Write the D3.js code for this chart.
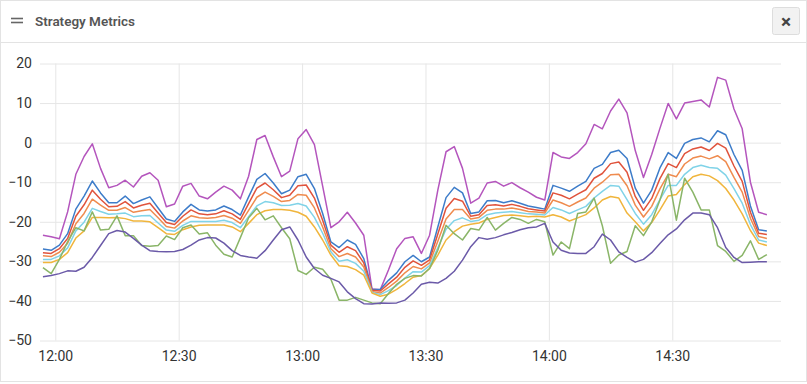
<!DOCTYPE html>
<html>
<head>
<meta charset="utf-8">
<script src="https://cdn.jsdelivr.net/npm/d3@7"></script>
<style>
  body { margin: 0; background: #fff; }
  svg text { font-family: Roboto, "Open Sans", sans-serif; }
</style>
</head>
<body>
<div id="chart"></div>
<script>
const title = "Strategy Metrics";
const startTime = "2024-01-01T11:57:00";   // first sample, one every 2 minutes
const stepMinutes = 2;
const xTickLabels = ["12:00", "12:30", "13:00", "13:30", "14:00", "14:30"];
const yTickValues = [20, 10, 0, -10, -20, -30, -40, -50];

const magenta = [-23.4, -23.8, -24.3, -17.5, -8, -3.5, -0.3, -6.5, -11.4, -10.8,
  -9.5, -11.2, -8.5, -7.6, -9.5, -16.2, -15.5, -11, -10.3, -13.5,
  -14.2, -12.5, -11, -12, -14.2, -8.5, 0.8, 1.8, -3.6, -8.6,
  -7.2, 1, 3.3, -0.5, -11, -21.5, -20, -17.6, -20.3, -23.4,
  -37, -37.2, -32.2, -26.8, -24.2, -23.8, -28, -23.4, -12, -2.3,
  -1, -6.5, -15.3, -14, -10.2, -9.8, -11, -10.1, -11.4, -12.5,
  -13.8, -14.5, -2.5, -3.6, -4, -2.5, -0.3, 4.6, 3.5, 8,
  11, 7.5, -2, -8.8, -3, 3.6, 9.9, 6, 10, 10.4,
  10.8, 9, 16.5, 15.8, 8.5, 3.5, -10, -17.6, -18.2];

const blue = [-26.9, -27.2, -25.9, -23, -16.8, -13.5, -9.7, -12.7, -15.2, -15.2,
  -13.5, -15.4, -14.5, -13.7, -16.5, -19.3, -19.9, -17.5, -15.6, -17,
  -17.3, -17, -16, -16.9, -18.3, -13.7, -9.3, -7.8, -10.2, -12.9,
  -12, -8.6, -8, -11.6, -17.9, -25.1, -26.5, -24.6, -25.7, -29.3,
  -37.1, -37.1, -34.8, -32.9, -30.1, -28.5, -30.1, -28.9, -21.3, -13.9,
  -11.3, -12.7, -17.9, -17.5, -14.7, -14.6, -15.2, -14.7, -15.3, -16,
  -16.4, -16.8, -10.8, -11.5, -12.3, -11, -9.8, -6.5, -5.5, -2.5,
  -1.9, -4, -11.5, -15.3, -12, -6.4, -2.5, -4, -0.2, 0.8,
  1.2, 0.2, 3, 2, -3, -7, -16, -22, -22.3];

const red = [-27.8, -28.0, -26.8, -24.2, -18.6, -15.7, -12.0, -14.3, -16.2, -16.1,
  -14.9, -16.5, -15.8, -15.3, -17.8, -20.2, -20.7, -18.6, -17.0, -18.0,
  -18.2, -18.0, -17.2, -18.0, -19.4, -15.4, -11.5, -10.2, -11.9, -13.9,
  -13.3, -10.9, -10.7, -14.0, -19.6, -25.9, -27.7, -26.3, -27.3, -30.4,
  -37.3, -37.5, -35.7, -34.0, -31.5, -29.9, -31.0, -29.6, -23.1, -16.6,
  -14.1, -14.8, -18.6, -18.2, -15.9, -15.7, -16.0, -15.6, -16.1, -16.7,
  -17.0, -17.3, -12.7, -13.3, -14.2, -13.0, -11.9, -9.0, -7.8, -5.3,
  -4.9, -7.5, -13.6, -17.1, -14.1, -9.1, -5.3, -6.3, -2.8, -1.6,
  -1.1, -2.0, -0.2, -1.4, -5.9, -9.8, -17.6, -22.9, -23.2];

const orange = [-28.6, -28.8, -27.7, -25.4, -20.5, -17.9, -14.3, -15.8, -17.1, -17.1,
  -16.4, -17.6, -17.2, -16.9, -19.0, -21.2, -21.6, -19.8, -18.5, -19.0,
  -19.1, -18.9, -18.4, -19.1, -20.4, -17.1, -13.8, -12.5, -13.6, -14.9,
  -14.6, -13.1, -13.3, -16.5, -21.3, -26.8, -28.8, -28.0, -28.9, -31.4,
  -37.6, -38.0, -36.6, -35.0, -32.9, -31.3, -31.9, -30.4, -24.9, -19.3,
  -16.9, -16.9, -19.3, -18.9, -17.1, -16.8, -16.8, -16.5, -16.9, -17.4,
  -17.5, -17.8, -14.5, -15.2, -16.1, -15.0, -14.0, -11.5, -10.0, -8.1,
  -8.0, -10.9, -15.8, -18.8, -16.1, -11.7, -8.0, -8.6, -5.4, -3.9,
  -3.4, -4.1, -3.3, -4.8, -8.8, -12.5, -19.1, -23.7, -24.2];

const cyan = [-29.5, -29.5, -28.6, -26.6, -22.3, -20.1, -16.6, -17.4, -18.1, -18.0,
  -17.8, -18.7, -18.5, -18.4, -20.3, -22.1, -22.4, -20.9, -19.9, -19.9,
  -19.9, -19.9, -19.6, -20.2, -21.5, -18.7, -16.0, -14.9, -15.2, -15.9,
  -15.8, -15.4, -16.0, -18.9, -22.9, -27.6, -30.0, -29.6, -30.5, -32.5,
  -37.8, -38.4, -37.4, -36.1, -34.2, -32.6, -32.7, -31.1, -26.6, -21.9,
  -19.7, -19.0, -19.9, -19.6, -18.2, -17.8, -17.6, -17.4, -17.7, -18.0,
  -18.1, -18.3, -16.4, -17.0, -17.9, -17.0, -16.1, -14.0, -12.3, -10.8,
  -11.0, -14.4, -17.9, -20.6, -18.2, -14.4, -10.8, -10.8, -8.0, -6.3,
  -5.7, -6.3, -6.5, -8.2, -11.6, -15.3, -20.7, -24.6, -25.1];

const yellow = [-30.3, -30.3, -29.5, -27.8, -24.1, -22.3, -18.9, -18.9, -19, -18.9,
  -19.2, -19.8, -19.8, -20, -21.5, -23, -23.2, -22, -21.3, -20.9,
  -20.8, -20.8, -20.8, -21.3, -22.5, -20.4, -18.2, -17.2, -16.9, -16.9,
  -17.1, -17.6, -18.6, -21.3, -24.6, -28.4, -31.1, -31.3, -32.1, -33.5,
  -38, -38.8, -38.3, -37.1, -35.6, -34, -33.6, -31.8, -28.4, -24.6,
  -22.5, -21.1, -20.6, -20.3, -19.4, -18.9, -18.4, -18.3, -18.5, -18.7,
  -18.6, -18.8, -18.2, -18.8, -19.8, -19, -18.2, -16.5, -14.5, -13.6,
  -14, -17.8, -20, -22.3, -20.2, -17, -13.5, -13.1, -10.6, -8.6,
  -8, -8.4, -9.6, -11.6, -14.5, -18, -22.2, -25.4, -26];

const green = [-31.6, -33.1, -29.5, -25, -21.5, -22.3, -17.5, -22.1, -21.9, -18.5,
  -23.5, -23.5, -26, -26.2, -26, -23.6, -24.5, -21.5, -20.8, -23.1,
  -22.8, -25.9, -28.2, -28.9, -24, -19, -16.6, -19.5, -18.5, -21.5,
  -24.3, -32.3, -33.3, -31.5, -32, -34.5, -39.8, -39.8, -39.1, -39.8,
  -40.5, -40.7, -38.1, -35.8, -34.3, -33.6, -33.7, -31.8, -27.2, -20.9,
  -23, -24.6, -21.7, -22.1, -18.9, -22.1, -20.4, -18.9, -19.4, -20.4,
  -19.4, -20, -28.4, -25.1, -26.8, -17.9, -17.5, -14, -21, -30.5,
  -28.4, -27.5, -21, -23.5, -20, -14.5, -8, -19.6, -9, -12.5,
  -17, -17, -26, -27.5, -30, -28.5, -24.8, -29.5, -28.3];

const indigo = [-33.9, -33.6, -33.1, -32.4, -32.5, -31.5, -29, -26, -23, -22.2,
  -22.6, -24.2, -25.9, -27.3, -27.5, -27.6, -27.5, -27, -25.9, -24.6,
  -24, -24.1, -25.4, -27.3, -28.5, -28.9, -29.2, -27.3, -24.6, -22,
  -21.3, -24.6, -28.9, -31.8, -33.5, -34.3, -35.2, -37.7, -39.4, -40.7,
  -40.8, -40.5, -40.6, -40.5, -39.8, -38, -35.8, -35.3, -35.5, -34.3,
  -32.5, -29.7, -26.3, -24, -24.4, -24, -23.3, -22.7, -22, -21.5,
  -21.3, -20.4, -25.1, -27.2, -27.9, -28, -28, -26.3, -23.1, -24.6,
  -27.6, -29, -30.2, -29.5, -27.8, -25.5, -23.3, -21.8, -19.5, -17.8,
  -17.8, -18.2, -21.5, -26.5, -29, -30.3, -30.2, -30.1, -30.1];

const seriesValues = [magenta, blue, red, orange, cyan, yellow, green, indigo];
const seriesColors = ["#b455bd", "#3d7cc9", "#e0533c", "#ef8b4e", "#80d3e8", "#f0b53c", "#8ab568", "#6b5aa8"];

const width = 807, height = 384;
const margin = { left: 40, right: 26, top: 63.5, bottom: 43.5 };

const parseTime = d3.timeParse("%Y-%m-%dT%H:%M:%S");
const t0 = parseTime(startTime);
const times = magenta.map((d, i) => d3.timeMinute.offset(t0, i * stepMinutes));
const tickDates = xTickLabels.map(s => parseTime("2024-01-01T" + s + ":00"));

const svg = d3.select("#chart").append("svg")
    .attr("width", width)
    .attr("height", height);

// panel frame + header
svg.append("rect")
    .attr("x", 0.5).attr("y", 0.5)
    .attr("width", width - 1).attr("height", 381)
    .attr("fill", "#fff")
    .attr("stroke", "#e3e3e3");
svg.append("line")
    .attr("x1", 0).attr("x2", width)
    .attr("y1", 42.5).attr("y2", 42.5)
    .attr("stroke", "#e3e3e3");

svg.selectAll(".burger")
  .data([18.5, 22.5])
  .enter().append("line")
    .attr("x1", 11).attr("x2", 23)
    .attr("y1", d => d).attr("y2", d => d)
    .attr("stroke", "#666")
    .attr("stroke-width", 1.6);

svg.append("text")
    .attr("x", 35).attr("y", 25.5)
    .attr("font-size", 13)
    .attr("font-weight", 600)
    .attr("fill", "#555")
    .attr("textLength", 100)
    .attr("lengthAdjust", "spacingAndGlyphs")
    .text(title);

svg.append("rect")
    .attr("x", 772.5).attr("y", 7.5)
    .attr("width", 27).attr("height", 27)
    .attr("rx", 2)
    .attr("fill", "#f2f2f2")
    .attr("stroke", "#dddddd");
svg.append("text")
    .attr("x", 786).attr("y", 21)
    .attr("dy", "0.35em")
    .attr("text-anchor", "middle")
    .attr("font-size", 19)
    .attr("font-weight", 700)
    .attr("fill", "#444")
    .text("\u00d7");

// scales
const x = d3.scaleTime()
    .domain([parseTime("2024-01-01T11:56:17"), parseTime("2024-01-01T14:56:26")])
    .range([margin.left, width - margin.right]);

const y = d3.scaleLinear()
    .domain([-50, 20])
    .range([height - margin.bottom, margin.top]);

const plotW = width - margin.right - margin.left;
const plotH = height - margin.bottom - margin.top;

// horizontal grid + y labels
const yAxis = svg.append("g")
    .attr("transform", "translate(" + margin.left + ",0)")
    .call(d3.axisLeft(y).tickValues(yTickValues).tickSize(-plotW).tickPadding(8));
yAxis.select(".domain").remove();
yAxis.selectAll("line").attr("stroke", "#e6e6e6");
yAxis.selectAll("text").attr("font-size", 14).attr("fill", "#333")
    .style("font-family", "Roboto, sans-serif");

// vertical grid + x labels
const xAxis = svg.append("g")
    .attr("transform", "translate(0," + y(-50) + ")")
    .call(d3.axisBottom(x).tickValues(tickDates).tickFormat(d3.timeFormat("%H:%M"))
      .tickSize(-plotH).tickPadding(11));
xAxis.select(".domain").remove();
xAxis.selectAll("line").attr("stroke", "#e6e6e6");
xAxis.selectAll("text").attr("font-size", 14).attr("fill", "#333")
    .style("font-family", "Roboto, sans-serif");

// lines
const line = d3.line()
    .x((d, i) => x(times[i]))
    .y(d => y(d));

svg.append("g")
  .selectAll("path")
  .data(seriesValues)
  .enter().append("path")
    .attr("d", d => line(d))
    .attr("fill", "none")
    .attr("stroke", (d, i) => seriesColors[i])
    .attr("stroke-width", 1.5)
    .attr("stroke-linejoin", "round");
</script>
</body>
</html>
